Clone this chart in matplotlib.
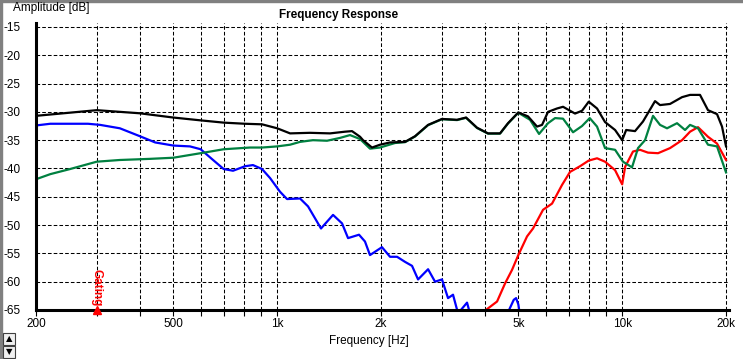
import matplotlib
matplotlib.use('Agg')
import matplotlib.pyplot as plt
from matplotlib.patches import Rectangle

# Total response (black)
black_f = [200, 300, 400, 500, 600, 700, 807, 904, 1000, 1090, 1245, 1423, 1573, 1648,
           1739, 1774, 1883, 1987, 2124, 2348, 2510, 2738, 3004, 3322, 3528, 3796, 4086,
           4426, 4668, 5000, 5335, 5666, 5858, 6097, 6474, 6740, 7301, 7650, 8000, 8456,
           8920, 9538, 10000, 10270, 10896, 11491, 11803, 12452, 12875, 13762, 14911,
           15730, 16812, 17733, 18834, 19472, 20000]
black_db = [-30.7, -29.7, -30.25, -31.0, -31.5, -31.9, -32.1, -32.2, -32.9, -33.8, -33.7,
            -33.8, -33.5, -33.4, -34.4, -35.0, -36.3, -35.8, -35.4, -35.3, -34.3, -32.3,
            -31.25, -31.4, -31.0, -32.8, -33.8, -33.8, -32.0, -30.1, -30.8, -32.6, -32.3,
            -30.0, -29.4, -29.1, -30.3, -29.8, -28.2, -29.4, -31.8, -33.2, -35.0, -33.2,
            -33.4, -31.7, -30.5, -28.1, -28.8, -28.6, -27.4, -27.0, -27.0, -29.7, -30.4,
            -32.6, -36.1]

# green
green_f = [200, 220, 251, 300, 350, 428, 500, 600, 700, 834, 904, 1000, 1090, 1165, 1270,
           1395, 1521, 1626, 1739, 1858, 1987, 2196, 2348, 2510, 2738, 3004, 3322, 3528,
           3796, 4086, 4426, 4668, 5000, 5407, 5742, 6097, 6389, 6740, 7204, 7650, 8054,
           8456, 8920, 9538, 10056, 10680, 11115, 11648, 12286, 12875, 13490, 14421,
           15214, 15730, 16590, 17733, 18834, 20000]
green_db = [-41.9, -41.0, -40.1, -38.8, -38.5, -38.3, -38.1, -37.3, -36.6, -36.3, -36.3,
            -36.1, -35.8, -35.3, -35.0, -35.1, -34.6, -34.1, -34.8, -36.5, -36.3, -35.5,
            -35.35, -34.35, -32.35, -31.3, -31.45, -31.05, -32.85, -33.85, -33.85, -32.05,
            -30.15, -31.4, -33.9, -32.0, -31.1, -31.2, -33.6, -32.5, -31.1, -32.6, -36.4,
            -36.7, -38.8, -39.8, -36.4, -35.0, -30.7, -32.3, -32.9, -32.0, -33.2, -32.3,
            -32.9, -35.8, -36.1, -40.7]

# blue (woofer)
blue_f = [200, 220, 283, 307, 350, 400, 443, 500, 559, 600, 652, 700, 745, 807, 851, 904,
          954, 1019, 1068, 1165, 1229, 1340, 1452, 1542, 1605, 1727, 1797, 1858, 2013,
          2124, 2226, 2348, 2460, 2561, 2738, 2868, 3004, 3128, 3234, 3344, 3551, 3622,
          3800, 4500, 4700, 4850, 4926, 5000, 5059, 5200]
blue_db = [-32.4, -32.1, -32.1, -32.3, -32.9, -34.3, -35.4, -35.95, -36.1, -36.6, -38.5,
           -40.1, -40.4, -39.6, -39.4, -40.1, -41.7, -44.1, -45.4, -45.3, -46.7, -50.6,
           -48.2, -49.7, -52.3, -51.7, -52.9, -55.3, -53.9, -55.6, -55.6, -56.5, -57.2,
           -59.6, -57.8, -60.0, -59.6, -62.9, -62.3, -65.6, -63.7, -65.6, -75, -75, -65.0,
           -63.2, -62.9, -64.0, -66.0, -75]

# red (tweeter)
red_f = [3900, 4027, 4339, 4577, 4796, 5000, 5300, 5516, 5897, 6263, 6695, 7062, 7549,
         8000, 8456, 8920, 9538, 10000, 10200, 10750, 11264, 11882, 12704, 13762, 14911,
         15730, 16590, 17733, 18834, 20000]
red_db = [-67.0, -65.0, -63.5, -60.3, -57.9, -55.3, -52.0, -50.6, -47.3, -46.2, -42.9,
          -40.6, -39.6, -38.6, -38.2, -38.8, -40.3, -42.8, -39.7, -37.0, -36.7, -37.2,
          -37.3, -36.4, -35.0, -33.5, -32.7, -34.4, -35.6, -38.5]

major_ticks = [200, 500, 1000, 2000, 5000, 10000, 20000]
major_labels = ['200', '500', '1k', '2k', '5k', '10k', '20k']
minor_ticks = [300, 400, 600, 700, 800, 900, 3000, 4000, 6000, 7000, 8000, 9000]
y_ticks = [-15, -20, -25, -30, -35, -40, -45, -50, -55, -60, -65]
gating_freq = 300


def draw_chart():
    plt.rcParams['font.family'] = ['Liberation Sans', 'DejaVu Sans']
    W, H = 743, 359
    fig = plt.figure(figsize=(W / 100, H / 100), dpi=100, facecolor='white')
    # axes box in pixels: left 36, right 729, top 23, bottom 310
    ax = fig.add_axes([36 / W, 1 - 310 / H, (729 - 36) / W, (310 - 23) / H])
    ax.set_facecolor('white')

    grid_style = dict(color='black', linestyle=(0, (3.5, 2)), linewidth=0.75)

    ax.plot(blue_f, blue_db, color='#0000ff', linewidth=1.6, zorder=3)
    ax.plot(red_f, red_db, color='#ff0000', linewidth=1.6, zorder=3)
    ax.plot(green_f, green_db, color='#008040', linewidth=1.6, zorder=4)
    ax.plot(black_f, black_db, color='black', linewidth=1.6, zorder=5)

    ax.set_xscale('log')
    ax.set_xlim(200, 20400)
    ax.set_ylim(-65, -14.3)

    ax.set_xticks(major_ticks)
    ax.set_xticklabels(major_labels)
    ax.set_xticks(minor_ticks, minor=True)
    ax.xaxis.set_minor_formatter(matplotlib.ticker.NullFormatter())
    ax.set_yticks(y_ticks)
    ax.set_yticklabels([str(v) for v in y_ticks])

    ax.grid(which='both', axis='x', **grid_style)
    ax.grid(which='major', axis='y', **grid_style)
    ax.set_axisbelow(True)

    ax.tick_params(axis='x', which='both', direction='out', length=4, width=0.8,
                   color='black', pad=2, labelsize=8.5)
    ax.tick_params(axis='y', length=0, pad=11, labelsize=8.5)

    for s in ['top', 'right']:
        ax.spines[s].set_visible(False)
    for s in ['left', 'bottom']:
        ax.spines[s].set_linewidth(2.2)
        ax.spines[s].set_zorder(6)

    # gating marker
    ax.plot([gating_freq], [-65], marker='^', color='#ff0000', markersize=6,
            clip_on=False, zorder=7)
    ax.text(gating_freq, -64.3, 'Gating', color='#ff0000', rotation=270,
            ha='center', va='bottom', fontsize=8.5, fontweight='bold', zorder=7)

    # texts around the plot
    fig.text(13 / W, 1 - 8 / H, 'Amplitude [dB]', ha='left', va='center', fontsize=8.5)
    fig.text(339 / W, 1 - 15 / H, 'Frequency Response', ha='center', va='center',
             fontsize=8.5, fontweight='bold')
    fig.text(369 / W, 1 - 341 / H, 'Frequency [Hz]', ha='center', va='center', fontsize=8.5)

    # window frame bits: grey edges and scroll buttons
    fig.patches.append(Rectangle((0, 0), 2 / W, 1, transform=fig.transFigure,
                                 color='#808080', zorder=0))
    fig.patches.append(Rectangle((0, 1 - 2 / H), 1, 2 / H, transform=fig.transFigure,
                                 color='#808080', zorder=0))
    for i, glyph in enumerate(['\u25b2', '\u25bc']):
        y0 = 333 + i * 13
        fig.patches.append(Rectangle((3 / W, 1 - (y0 + 12) / H), 12 / W, 12 / H,
                                     transform=fig.transFigure, facecolor='#f0f0f0',
                                     edgecolor='#404040', linewidth=0.8))
        fig.text(9 / W, 1 - (y0 + 6) / H, glyph, ha='center', va='center', fontsize=6,
                 family=['DejaVu Sans'])

    fig.savefig('out.png', dpi=100, facecolor='white')


def main():
    draw_chart()


if __name__ == "__main__":
    main()
